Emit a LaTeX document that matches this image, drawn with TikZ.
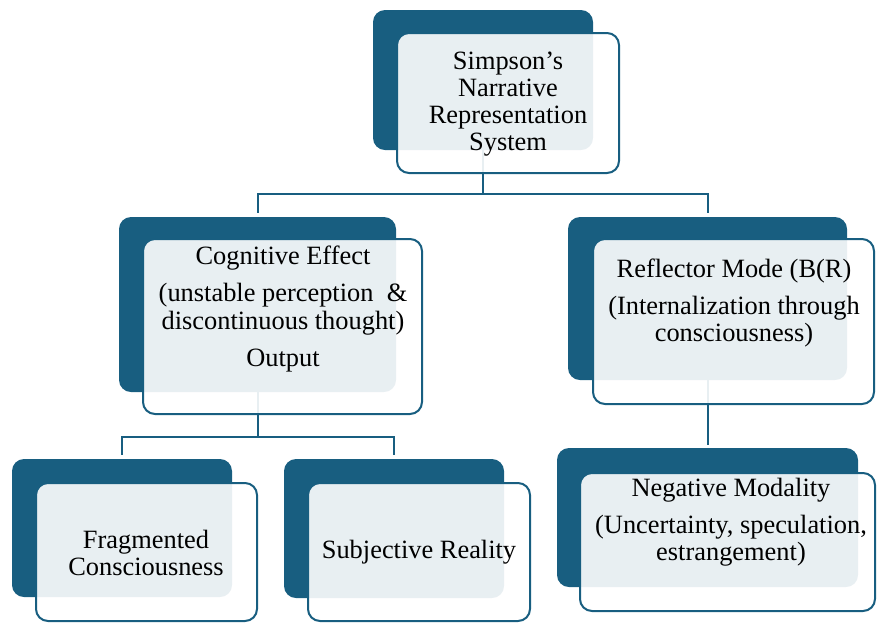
\documentclass[tikz,border=0pt]{standalone}
\usepackage{fontspec}
\setmainfont{Liberation Serif}
\usetikzlibrary{positioning}
\definecolor{deepteal}{HTML}{185E80}
\tikzset{
  backbox/.style={fill=deepteal,rounded corners=6pt,inner sep=0pt,outer sep=0pt},
  frontbox/.style={draw=deepteal,line width=1pt,fill=white,fill opacity=0.9,
    rounded corners=6pt,inner sep=0pt,outer sep=0pt},
  boxtext/.style={align=center,inner sep=0pt,font=\fontsize{13.2}{13.6}\selectfont},
  link/.style={draw=deepteal,line width=1pt}
}

\begin{document}
\begin{tikzpicture}[x=0.5pt,y=-0.5pt]
        \useasboundingbox (0,0) rectangle (877,623);
        % dark back panels
        \node(rootback)[backbox,minimum width=110pt,minimum height=70pt] at (483,80){};
        \node(cogback)[backbox,minimum width=138.5pt,minimum height=87.5pt] at (257.5,304.5){};
        \node(reflback)[backbox,minimum width=139.5pt,minimum height=81.5pt] at (707.5,298.5){};
        \node(fragback)[backbox,minimum width=110pt,minimum height=69pt] at (122,528){};
        \node(subjback)[backbox,minimum width=110pt,minimum height=69.5pt] at (394,528.5){};
        \node(negback)[backbox,minimum width=150.5pt,minimum height=69.5pt] at (707.5,517.5){};
        % connectors
        \draw[link,shorten >=2pt]
        (rootback.south) -- ++(0,44) -| (cogback.north);
        \draw[link,shorten >=2pt]
        (rootback.south) -- ++(0,44) -| (reflback.north);
        \draw[link,shorten >=2pt]
        (cogback.south) -- ++(0,45) -| (fragback.north);
        \draw[link,shorten >=2pt]
        (cogback.south) -- ++(0,45) -| (subjback.north);
        \draw[link,shorten >=1.5pt]
        (reflback.south) -- (negback.north);
        % light front panels
        \node(rootfront)[frontbox,minimum width=111pt,minimum height=70pt] at (508,103){};
        \node(cogfront)[frontbox,minimum width=139.5pt,minimum height=87.5pt] at (282.5,326.5){};
        \node(reflfront)[frontbox,minimum width=140.5pt,minimum height=82.5pt] at (733.5,321.5){};
        \node(fragfront)[frontbox,minimum width=110.5pt,minimum height=69pt] at (146.5,552){};
        \node(subjfront)[frontbox,minimum width=111pt,minimum height=69pt] at (419,552){};
        \node(negfront)[frontbox,minimum width=147.5pt,minimum height=69pt] at (727.5,542){};
        % texts
        \node(roottext)[boxtext] at (508,104){Simpson’s\\Narrative\\Representation\\System};
        \node(cogtext)[boxtext] at (283,309){Cognitive Effect\\[5pt](unstable perception~~\&\\discontinuous thought)\\[5pt]Output};
        \node(refltext)[boxtext] at (734,303){Reflector Mode (B(R)\\[5pt](Internalization through\\consciousness)};
        \node(fragtext)[boxtext] at (146,553){Fragmented\\Consciousness};
        \node(subjtext)[boxtext] at (419,552){Subjective Reality};
        \node(negtext)[boxtext] at (731,522){Negative Modality\\[5pt](Uncertainty, speculation,\\estrangement)};
      \end{tikzpicture}
\end{document}
